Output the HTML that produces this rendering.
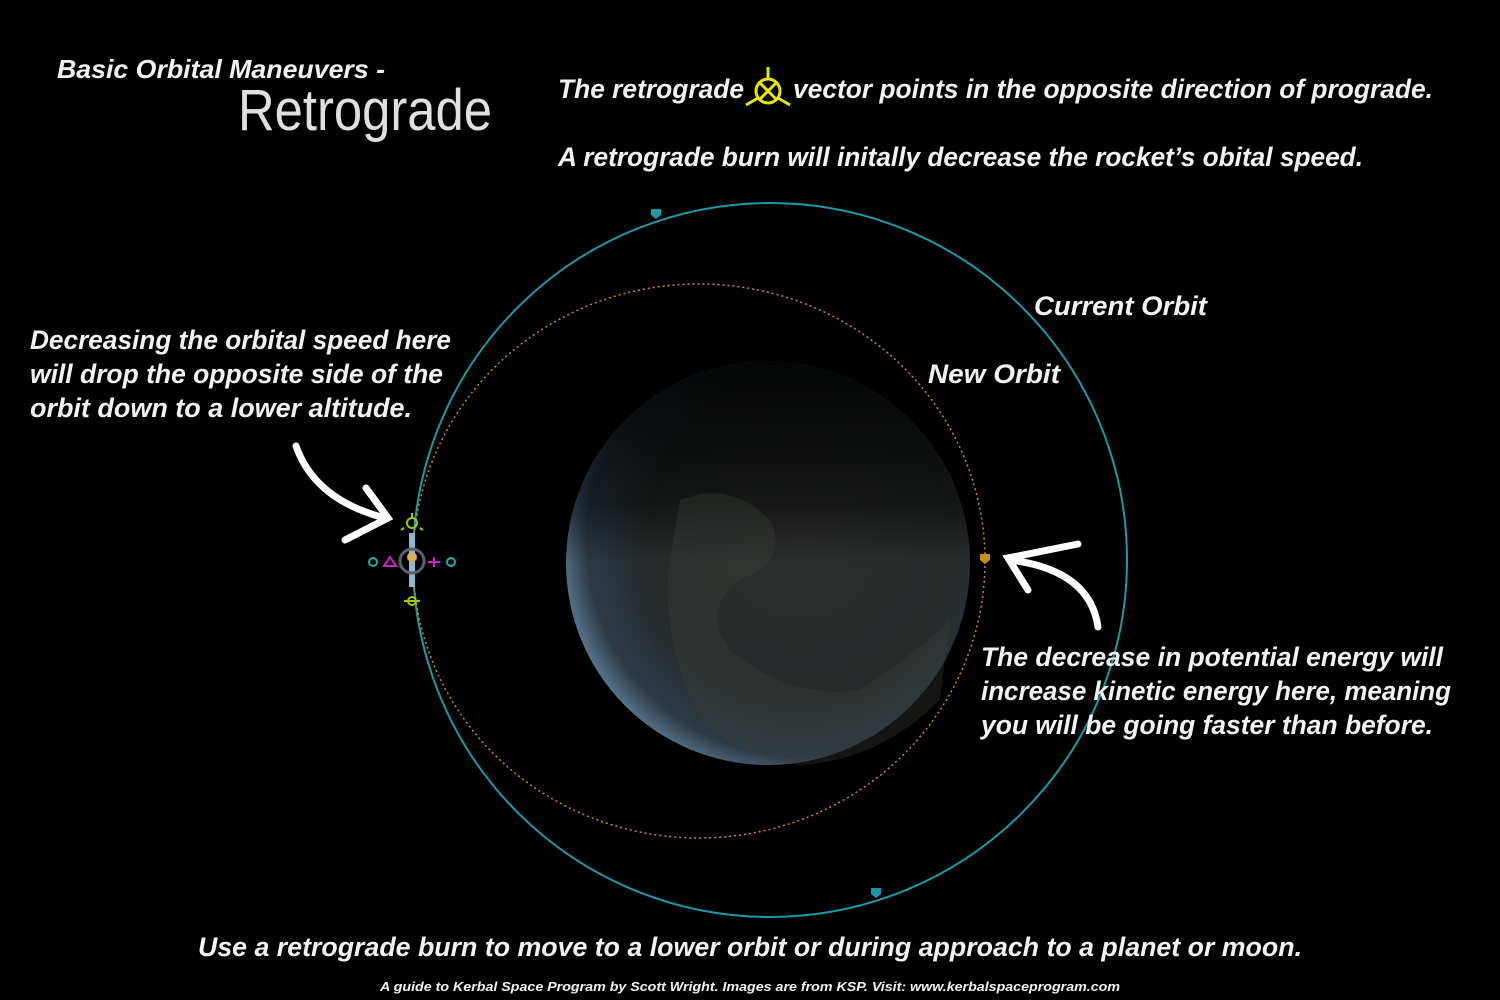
<!DOCTYPE html>
<html><head><meta charset="utf-8"><style>
html,body{margin:0;padding:0;background:#000;width:1500px;height:1000px;overflow:hidden}
svg{display:block}
text{font-family:"Liberation Sans",sans-serif;font-style:italic;font-weight:bold;fill:#f2f2f2}
</style></head><body>
<svg width="1500" height="1000" viewBox="0 0 1500 1000">
<defs>
<radialGradient id="pg" cx="0.58" cy="0.45" r="0.6">
<stop offset="0" stop-color="#2e302e"/>
<stop offset="0.65" stop-color="#272b2b"/>
<stop offset="0.88" stop-color="#2c3a46"/>
<stop offset="1" stop-color="#5a7890"/>
</radialGradient>
<linearGradient id="tp" x1="0" y1="0" x2="0" y2="1">
<stop offset="0" stop-color="#000" stop-opacity="0.9"/>
<stop offset="0.35" stop-color="#000" stop-opacity="0.5"/>
<stop offset="0.5" stop-color="#000" stop-opacity="0"/>
</linearGradient>
</defs>
<rect width="1500" height="1000" fill="#000"/>

<text x="57" y="78" font-size="26" textLength="328" lengthAdjust="spacingAndGlyphs">Basic Orbital Maneuvers -</text>
<text x="238" y="130" font-size="58" style="font-weight:normal;font-style:normal;fill:#e0e0e0" textLength="254" lengthAdjust="spacingAndGlyphs">Retrograde</text>

<text x="558" y="98" font-size="27" textLength="186" lengthAdjust="spacingAndGlyphs">The retrograde</text>
<g stroke="#e8e800" stroke-width="3" fill="none">
<circle cx="768" cy="91" r="12"/><line x1="760" y1="83" x2="776" y2="99"/><line x1="776" y1="83" x2="760" y2="99"/>
<line x1="768" y1="79" x2="768" y2="67"/><line x1="758" y1="98" x2="746" y2="105"/><line x1="778" y1="98" x2="790" y2="105"/>
</g>
<text x="793" y="98" font-size="27" textLength="640" lengthAdjust="spacingAndGlyphs">vector points in the opposite direction of prograde.</text>
<text x="558" y="166" font-size="27" textLength="805" lengthAdjust="spacingAndGlyphs">A retrograde burn will initally decrease the rocket’s obital speed.</text>

<circle cx="768" cy="563" r="202" fill="url(#pg)"/>
<circle cx="768" cy="563" r="202" fill="url(#tp)"/>
<path d="M680 500 Q730 480 770 520 Q790 560 740 580 Q700 610 730 650 Q790 700 860 690 Q920 650 950 620 L940 700 Q880 760 800 765 Q720 755 690 700 Q660 620 670 560Z" fill="#3c403a" opacity="0.35"/>

<circle cx="770" cy="560" r="357" fill="none" stroke="#1a9aa8" stroke-width="2"/>
<ellipse cx="699" cy="561" rx="286" ry="277" fill="none" stroke="#c89010" stroke-width="1.5" stroke-dasharray="2 3"/>
<path d="M651 209h10v6l-5 4l-5-4z" fill="#1a9aa8"/>
<path d="M871 888h10v6l-5 4l-5-4z" fill="#1a9aa8"/>
<path d="M980 554h10v6l-5 4l-5-4z" fill="#c89010"/>

<g fill="none" stroke-width="2">
<rect x="409" y="533" width="6" height="54" fill="#8ab8d0" stroke="none"/>
<circle cx="412" cy="561" r="12" stroke="#556070" stroke-width="3"/>
<circle cx="412" cy="557" r="5" fill="#d8b060" stroke="none"/>
<circle cx="412" cy="523" r="5" stroke="#9acc00"/><line x1="412" y1="518" x2="412" y2="513" stroke="#9acc00"/><line x1="404" y1="528" x2="401" y2="530" stroke="#9acc00"/><line x1="420" y1="528" x2="423" y2="530" stroke="#9acc00"/>
<circle cx="412" cy="601" r="4" stroke="#9acc00"/><line x1="404" y1="601" x2="420" y2="601" stroke="#9acc00"/>
<circle cx="373" cy="562" r="4" stroke="#1ab0a8"/><circle cx="451" cy="562" r="4" stroke="#1ab0a8"/>
<path d="M384 566h12l-6-9z" stroke="#d020d0"/><path d="M428 562h12M434 557v10" stroke="#d020d0"/>
</g>

<text x="1034" y="315" font-size="27" textLength="173" lengthAdjust="spacingAndGlyphs">Current Orbit</text>
<text x="928" y="383" font-size="27" textLength="132" lengthAdjust="spacingAndGlyphs">New Orbit</text>

<g font-size="27">
<text x="30" y="349" textLength="421" lengthAdjust="spacingAndGlyphs">Decreasing the orbital speed here</text>
<text x="30" y="383" textLength="413" lengthAdjust="spacingAndGlyphs">will drop the opposite side of the</text>
<text x="30" y="417" textLength="382" lengthAdjust="spacingAndGlyphs">orbit down to a lower altitude.</text>
</g>
<g font-size="27">
<text x="981" y="666" textLength="462" lengthAdjust="spacingAndGlyphs">The decrease in potential energy will</text>
<text x="981" y="700" textLength="470" lengthAdjust="spacingAndGlyphs">increase kinetic energy here, meaning</text>
<text x="981" y="734" textLength="452" lengthAdjust="spacingAndGlyphs">you will be going faster than before.</text>
</g>

<g stroke="#fff" stroke-width="7" fill="none" stroke-linecap="round">
<path d="M296 446 Q315 500 385 518"/>
<path d="M366 488 L388 518 L345 540"/>
</g>
<g stroke="#fff" stroke-width="7" fill="none" stroke-linecap="round">
<path d="M1098 627 Q1090 570 1010 560"/>
<path d="M1078 544 L1008 558 L1028 590"/>
</g>

<text x="198" y="956" font-size="27" textLength="1104" lengthAdjust="spacingAndGlyphs">Use a retrograde burn to move to a lower orbit or during approach to a planet or moon.</text>
<text x="380" y="991" font-size="13" textLength="740" lengthAdjust="spacingAndGlyphs">A guide to Kerbal Space Program by Scott Wright.  Images are from KSP.  Visit:  www.kerbalspaceprogram.com</text>
</svg>
</body></html>
